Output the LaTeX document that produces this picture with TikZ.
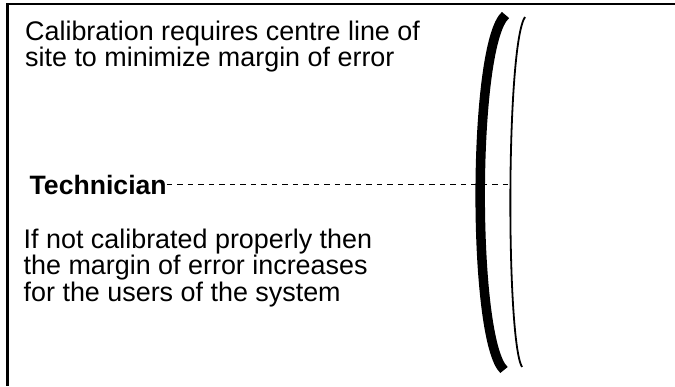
\documentclass[tikz,border=0pt]{standalone}
\usepackage{fontspec}
\setmainfont{Liberation Sans}
\begin{document}
\begin{tikzpicture}[x=1pt,y=-1pt,
  textblock/.style={anchor=base west,inner sep=0pt,align=left,
    font=\fontsize{26.9}{24.5}\selectfont},
  label/.style={anchor=base west,inner sep=0pt,
    font=\fontsize{26.6}{24.5}\selectfont\bfseries},
  frame/.style={line width=2.5pt},
  lens/.style={line width=9.5pt,line cap=butt},
  thinlens/.style={line width=1.8pt,line cap=butt},
  sightline/.style={line width=1.6pt,dash pattern=on 5.5pt off 5pt}]
\useasboundingbox (0,0) rectangle (675,386);

% frame: top rule and left rule
\draw[frame] (675,4) -- (7.3,4) -- (7.3,386);

% notes (anchored at the baseline of their last line)
\node[textblock] (note1) at (25,66.5)
  {Calibration requires centre line of\\site to minimize margin of error};
\node[label] (tech) at (29.5,194) {Technician};
\node[textblock] (note2) at (23.5,301)
  {If not calibrated properly then\\the margin of error increases\\for the users of the system};

% the two arcs
\draw[lens] (505.5,15) .. controls (472,45) and (472,340) .. (504,370);
\draw[thinlens] (525,17) .. controls (506,45) and (506,340) .. (522,367);

% line of sight from the technician to the thin arc
\coordinate (thinmid) at (510.5,185);
\draw[sightline] (tech.east) -- (tech.east -| thinmid);
\end{tikzpicture}
\end{document}
